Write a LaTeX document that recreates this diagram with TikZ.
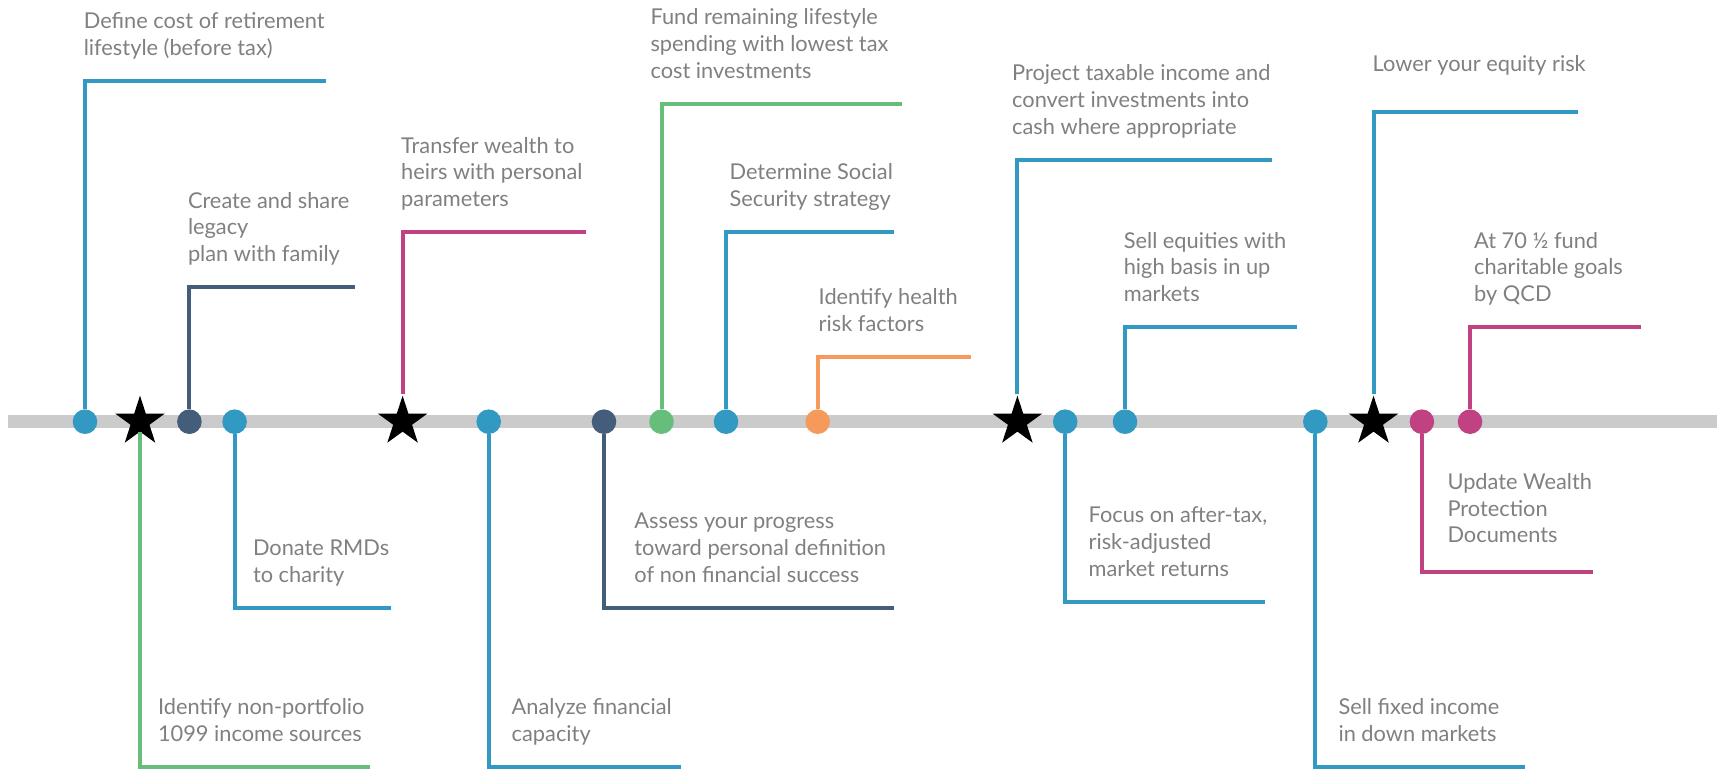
\documentclass[tikz,border=0pt]{standalone}
\usepackage{fontspec}
\setmainfont{Lato}
\usetikzlibrary{positioning,shapes.geometric}

\definecolor{tlblue}{RGB}{50,153,194}
\definecolor{tlslate}{RGB}{68,93,122}
\definecolor{tlgreen}{RGB}{102,190,122}
\definecolor{tlpink}{RGB}{192,66,131}
\definecolor{tlorange}{RGB}{246,154,92}
\definecolor{tlbar}{RGB}{203,203,203}
\definecolor{tltext}{RGB}{128,128,128}

\tikzset{
	milestone/.style = {circle, fill = #1, inner sep = 0pt, minimum size = 12.3pt},
	keystar/.style = {star, star points = 5, star point ratio = 2.618, fill = black, inner sep = 0pt, minimum size = 26pt},
	leader/.style = {draw = #1, line width = 2pt, line join = miter},
	caption/.style = {align = left, inner sep = 0pt, text = tltext,
		font = \fontsize{10.9}{13.35}\selectfont,
		execute at begin node = \strut, execute at end node = \strut}
}

\begin{document}
\begin{tikzpicture}[x = 0.5pt, y = -0.5pt]
	\useasboundingbox (0, 0) rectangle (1717, 769);
	
	% the time line
	\coordinate (tlstart) at (8, 421.7);
	\coordinate (tlend) at (1717, 421.7);
	\draw[tlbar, line width = 6.65pt] (tlstart) -- (tlend);
	
	% points on the line
	\node[milestone = tlblue] (m1) at (85, 421.7) {};
	\node[keystar] (s1) at (140, 421.7) {};
	\node[milestone = tlslate] (m2) at (189.4, 421.7) {};
	\node[milestone = tlblue] (m3) at (234.6, 421.7) {};
	\node[keystar] (s2) at (402.6, 421.7) {};
	\node[milestone = tlblue] (m4) at (488.7, 421.7) {};
	\node[milestone = tlslate] (m5) at (604, 421.7) {};
	\node[milestone = tlgreen] (m6) at (661.5, 421.7) {};
	\node[milestone = tlblue] (m7) at (726, 421.7) {};
	\node[milestone = tlorange] (m8) at (817.7, 421.7) {};
	\node[keystar] (s3) at (1017.4, 421.7) {};
	\node[milestone = tlblue] (m9) at (1065.2, 421.7) {};
	\node[milestone = tlblue] (m10) at (1125, 421.7) {};
	\node[milestone = tlblue] (m11) at (1315.3, 421.7) {};
	\node[keystar] (s4) at (1373.5, 421.7) {};
	\node[milestone = tlpink] (m12) at (1421.9, 421.7) {};
	\node[milestone = tlpink] (m13) at (1470, 421.7) {};
	
	% brackets above the line
	\coordinate (k1) at (85, 81.3);
	\coordinate (e1) at (325.7, 81.3);
	\draw[leader = tlblue] (m1) -- (k1) -- (e1);
	\node[caption, above right = 8.6pt and -0.8pt of k1] (t1) {Define cost of retirement\\lifestyle (before tax)};
	
	\coordinate (k2) at (189.4, 287.3);
	\coordinate (e2) at (355, 287.3);
	\draw[leader = tlslate] (m2) -- (k2) -- (e2);
	\node[caption, above right = 8.6pt and -0.9pt of k2] (t2) {Create and share\\legacy\\plan with family};
	
	\coordinate (k3) at (402.6, 232.3);
	\coordinate (e3) at (585.5, 232.3);
	\draw[leader = tlpink] (s2) -- (k3) -- (e3);
	\node[caption, above right = 8.6pt and -0.9pt of k3] (t3) {Transfer wealth to\\heirs with personal\\parameters};
	
	\coordinate (k4) at (661.5, 104);
	\coordinate (e4) at (901.8, 104);
	\draw[leader = tlgreen] (m6) -- (k4) -- (e4);
	\node[caption, above right = 8.6pt and -5.7pt of k4] (t4) {Fund remaining lifestyle\\spending with lowest tax\\cost investments};
	
	\coordinate (k5) at (726, 232.3);
	\coordinate (e5) at (894.2, 232.3);
	\draw[leader = tlblue] (m7) -- (k5) -- (e5);
	\node[caption, above right = 8.6pt and 1.6pt of k5] (t5) {Determine Social\\Security strategy};
	
	\coordinate (k6) at (817.7, 357.3);
	\coordinate (e6) at (970.7, 357.3);
	\draw[leader = tlorange] (m8) -- (k6) -- (e6);
	\node[caption, above right = 8.6pt and 0.3pt of k6] (t6) {Identify health\\risk factors};
	
	\coordinate (k7) at (1017.4, 160);
	\coordinate (e7) at (1271.6, 160);
	\draw[leader = tlblue] (s3) -- (k7) -- (e7);
	\node[caption, above right = 8.6pt and -2.8pt of k7] (t7) {Project taxable income and\\convert investments into\\cash where appropriate};
	
	\coordinate (k8) at (1125, 327.3);
	\coordinate (e8) at (1296.8, 327.3);
	\draw[leader = tlblue] (m10) -- (k8) -- (e8);
	\node[caption, above right = 8.6pt and -0.8pt of k8] (t8) {Sell equities with\\high basis in up\\markets};
	
	\coordinate (k9) at (1373.5, 112.3);
	\coordinate (e9) at (1578.2, 112.3);
	\draw[leader = tlblue] (s4) -- (k9) -- (e9);
	\node[caption, above right = 16.2pt and -0.6pt of k9] (t9) {Lower your equity risk};
	
	\coordinate (k10) at (1470, 327.3);
	\coordinate (e10) at (1641.1, 327.3);
	\draw[leader = tlpink] (m13) -- (k10) -- (e10);
	\node[caption, above right = 8.6pt and 1.9pt of k10] (t10) {At 70 ½ fund\\charitable goals\\by QCD};
	
	% brackets below the line
	\coordinate (k11) at (140, 766.7);
	\coordinate (e11) at (370, 766.7);
	\draw[leader = tlgreen] (s1) -- (k11) -- (e11);
	\node[caption, above right = 8.6pt and 8.8pt of k11] (t11) {Identify non-portfolio\\1099 income sources};
	
	\coordinate (k12) at (234.6, 607.7);
	\coordinate (e12) at (391, 607.7);
	\draw[leader = tlblue] (m3) -- (k12) -- (e12);
	\node[caption, above right = 8.6pt and 9pt of k12] (t12) {Donate RMDs\\to charity};
	
	\coordinate (k13) at (488.7, 767.3);
	\coordinate (e13) at (680.6, 767.3);
	\draw[leader = tlblue] (m4) -- (k13) -- (e13);
	\node[caption, above right = 8.6pt and 11.3pt of k13] (t13) {Analyze financial\\capacity};
	
	\coordinate (k14) at (604, 607.7);
	\coordinate (e14) at (894.1, 607.7);
	\draw[leader = tlslate] (m5) -- (k14) -- (e14);
	\node[caption, above right = 8.6pt and 15pt of k14] (t14) {Assess your progress\\toward personal definition\\of non financial success};
	
	\coordinate (k15) at (1065.2, 601.7);
	\coordinate (e15) at (1264.5, 601.7);
	\draw[leader = tlblue] (m9) -- (k15) -- (e15);
	\node[caption, above right = 8.6pt and 11.5pt of k15] (t15) {Focus on after-tax,\\risk-adjusted\\market returns};
	
	\coordinate (k16) at (1315.3, 766.7);
	\coordinate (e16) at (1525, 766.7);
	\draw[leader = tlblue] (m11) -- (k16) -- (e16);
	\node[caption, above right = 8.6pt and 11.4pt of k16] (t16) {Sell fixed income\\in down markets};
	
	\coordinate (k17) at (1421.9, 571.7);
	\coordinate (e17) at (1592.7, 571.7);
	\draw[leader = tlpink] (m12) -- (k17) -- (e17);
	\node[caption, above right = 10.2pt and 12.6pt of k17] (t17) {Update Wealth\\Protection\\Documents};

\end{tikzpicture}
\end{document}
